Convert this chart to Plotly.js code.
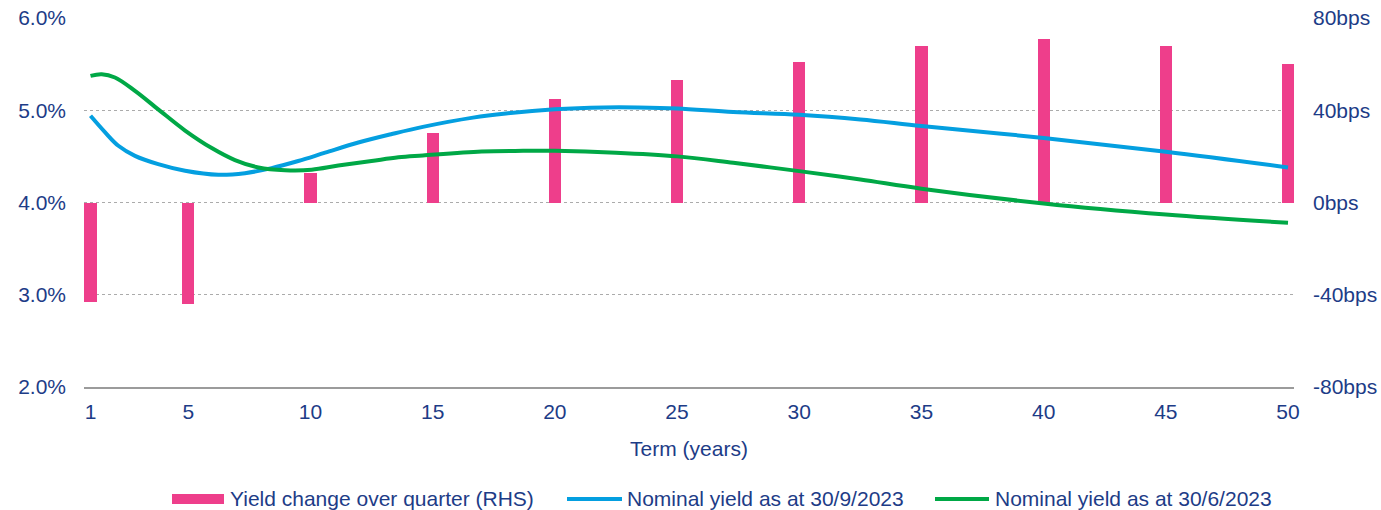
<!DOCTYPE html>
<html>
<head>
<meta charset="utf-8">
<script src="https://cdn.plot.ly/plotly-3.0.1.min.js"></script>
<style>
  html, body { margin: 0; padding: 0; background: #ffffff; }
  #chart { width: 1381px; height: 510px; }
</style>
</head>
<body>
<div id="chart"></div>
<script>
// Quarterly change in yield by term (bps, right-hand scale)
const changeTerms = [1, 5, 10, 15, 20, 25, 30, 35, 40, 45, 50];
const changeBps = [-43, -44, 13, 30, 45, 53, 61, 68, 71, 68, 60];

// Nominal yield curve at 30/9/2023 (%)
const sepTerms = [1, 1.6, 2.14, 2.82, 3.77, 4.87, 6.23, 7.32, 8.41, 9.5, 10.6, 11.96, 13.3, 14.6, 16.65, 18, 20, 22, 23.4, 25, 27.3, 30, 32.5, 35, 40, 45, 50];
const sepYield = [4.94, 4.76, 4.615, 4.506, 4.416, 4.344, 4.30, 4.318, 4.373, 4.45, 4.54, 4.65, 4.74, 4.82, 4.92, 4.965, 5.01, 5.03, 5.03, 5.02, 4.98, 4.95, 4.90, 4.83, 4.70, 4.55, 4.38];

// Nominal yield curve at 30/6/2023 (%)
const junTerms = [1, 1.46, 2.0, 2.82, 3.77, 4.87, 5.96, 6.91, 7.87, 8.96, 10.05, 11.14, 12.5, 13.6, 14.6, 17, 18.7, 20, 22.5, 25, 27.3, 30, 32.5, 35, 40, 45, 50];
const junYield = [5.373, 5.39, 5.355, 5.21, 5.01, 4.78, 4.59, 4.46, 4.38, 4.35, 4.355, 4.40, 4.45, 4.49, 4.51, 4.553, 4.56, 4.56, 4.54, 4.50, 4.43, 4.34, 4.25, 4.15, 3.99, 3.87, 3.78];

// Axis ticks
const termTicks = [1, 5, 10, 15, 20, 25, 30, 35, 40, 45, 50];
const yieldTicks = [2, 3, 4, 5, 6];
const yieldTickText = ['2.0%', '3.0%', '4.0%', '5.0%', '6.0%'];
const bpsTicks = [-80, -40, 0, 40, 80];
const bpsTickText = ['-80bps', '-40bps', '0bps', '40bps', '80bps'];

// Series labels
const labels = ['Yield change over quarter (RHS)', 'Nominal yield as at 30/9/2023', 'Nominal yield as at 30/6/2023'];

const NAVY = '#1D3C87';
const PINK = '#EE3E8B';
const BLUE = '#049FE0';
const GREEN = '#00A846';
const FONT = 'Liberation Sans, Arial, sans-serif';

const W = 1381, H = 510;
const M = { l: 84, r: 87, t: 18, b: 123 };
const plotW = W - M.l - M.r;
const plotH = H - M.t - M.b;
const fx = p => (p - M.l) / plotW;         // page px -> paper x
const fy = p => (H - M.b - p) / plotH;     // page px -> paper y

const traces = [
  {
    type: 'bar', x: changeTerms, y: changeBps, width: 0.5,
    marker: { color: PINK }, yaxis: 'y', xaxis: 'x',
    name: labels[0], showlegend: false, hoverinfo: 'skip'
  },
  {
    type: 'scatter', mode: 'lines', x: sepTerms, y: sepYield,
    line: { color: BLUE, width: 4, shape: 'spline', smoothing: 1 },
    yaxis: 'y2', name: labels[1], showlegend: false, hoverinfo: 'skip'
  },
  {
    type: 'scatter', mode: 'lines', x: junTerms, y: junYield,
    line: { color: GREEN, width: 4, shape: 'spline', smoothing: 1 },
    yaxis: 'y2', name: labels[2], showlegend: false, hoverinfo: 'skip'
  }
];

// Legend drawn as keys + labels beneath the x-axis title
const legendY = 499;
const shapes = [
  { type: 'rect', xref: 'paper', yref: 'paper', x0: fx(172), x1: fx(224), y0: fy(504), y1: fy(494),
    fillcolor: PINK, line: { width: 0 } },
  { type: 'line', xref: 'paper', yref: 'paper', x0: fx(567), x1: fx(622), y0: fy(legendY), y1: fy(legendY),
    line: { color: BLUE, width: 4 } },
  { type: 'line', xref: 'paper', yref: 'paper', x0: fx(935), x1: fx(989), y0: fy(legendY), y1: fy(legendY),
    line: { color: GREEN, width: 4 } }
];
const legendText = [228, 625, 993].map((x, i) => ({
  xref: 'paper', yref: 'paper', x: fx(x), y: fy(legendY - 1),
  xanchor: 'left', yanchor: 'middle', showarrow: false,
  text: labels[i], font: { family: FONT, size: 21, color: NAVY }
}));

const layout = {
  width: W, height: H,
  margin: M,
  paper_bgcolor: '#ffffff', plot_bgcolor: '#ffffff',
  font: { family: FONT, size: 21, color: NAVY },
  showlegend: false,
  hovermode: false,
  bargap: 0,
  xaxis: {
    range: [0.734, 50.245], tickmode: 'array', tickvals: termTicks, ticktext: termTicks.map(String),
    showgrid: false, zeroline: false,
    showline: true, linecolor: '#9B9B9B', linewidth: 2,
    ticks: '', ticklabelstandoff: 5,
    tickfont: { family: FONT, size: 21, color: NAVY },
    title: { text: 'Term (years)', font: { family: FONT, size: 21, color: NAVY }, standoff: 19 }
  },
  yaxis: {
    side: 'right', range: [-80, 80], tickmode: 'array', tickvals: bpsTicks, ticktext: bpsTickText,
    showgrid: true, gridcolor: '#ABABAB', gridwidth: 1, griddash: 'dot',
    zeroline: false, showline: false, ticks: '', ticklabelstandoff: 18,
    tickfont: { family: FONT, size: 21, color: NAVY }
  },
  yaxis2: {
    overlaying: 'y', side: 'left', range: [2, 6], tickmode: 'array', tickvals: yieldTicks, ticktext: yieldTickText,
    showgrid: false, zeroline: false, showline: false, ticks: '', ticklabelstandoff: 17,
    tickfont: { family: FONT, size: 21, color: NAVY }
  },
  shapes: shapes,
  annotations: legendText
};

Plotly.newPlot('chart', traces, layout, { displayModeBar: false, staticPlot: true });
</script>
</body>
</html>
